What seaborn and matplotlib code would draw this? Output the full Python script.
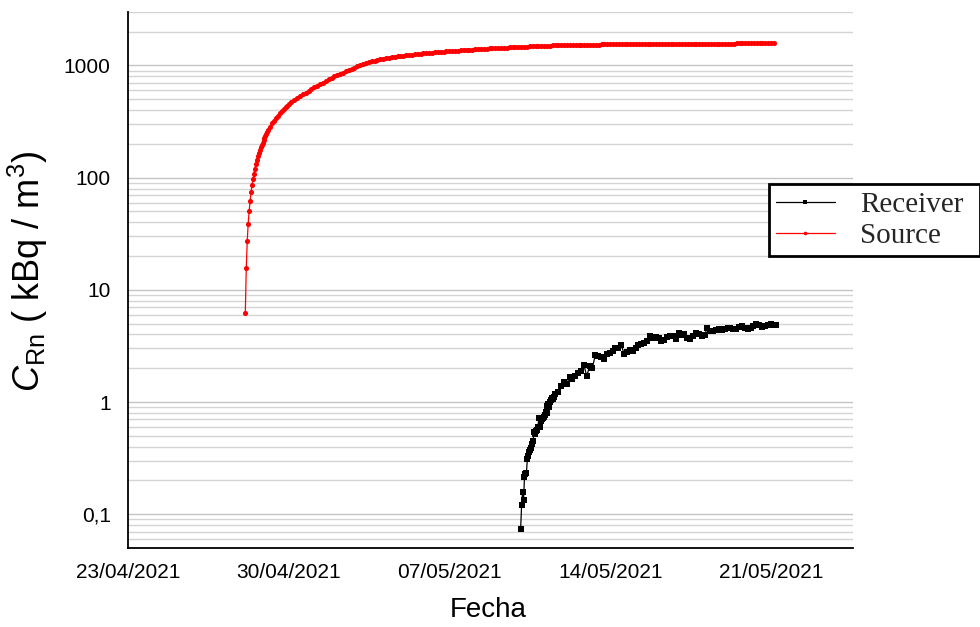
import pandas as pd
import matplotlib
matplotlib.use("Agg")
import matplotlib.pyplot as plt
import matplotlib.dates as mdates
from matplotlib.ticker import LogLocator, FuncFormatter, NullFormatter
import seaborn as sns

# valores (kBq/m3)
source_start = "2021-04-28 02:30"
# primeras 24 h, cada hora
source_first = [6.2, 15.8, 27, 39, 50, 62, 74, 86, 97, 108, 120, 133,
                145, 156, 167, 177, 187, 196, 205, 215, 225, 235, 245, 255]
# de 24 h a 48 h, cada 2 h
source_mid = [265, 285, 305, 322, 340, 357, 373, 390, 406, 422, 438, 453, 468]
# desde 51 h, cada 3 h
source_late = [490, 511, 532, 552, 572, 593, 615, 637, 659, 681,
               704, 728, 751, 774, 797, 820, 842, 865, 888, 912,
               935, 958, 981, 1004, 1026, 1048, 1068, 1088, 1104, 1119,
               1133, 1147, 1160, 1173, 1183, 1192, 1202, 1212, 1221, 1229,
               1238, 1247, 1255, 1263, 1271, 1278, 1286, 1294, 1301, 1307,
               1314, 1321, 1328, 1334, 1340, 1345, 1351, 1356, 1362, 1368,
               1374, 1379, 1385, 1391, 1397, 1402, 1407, 1411, 1417, 1422,
               1427, 1431, 1436, 1440, 1445, 1449, 1454, 1458, 1462, 1466,
               1471, 1475, 1480, 1485, 1488, 1491, 1494, 1497, 1500, 1503,
               1506, 1509, 1512, 1515, 1517, 1518, 1520, 1521, 1523, 1524,
               1526, 1527, 1529, 1531, 1532, 1534, 1535, 1537, 1538, 1540,
               1541, 1542, 1543, 1544, 1545, 1546, 1546, 1547, 1547, 1548,
               1549, 1549, 1550, 1550, 1551, 1552, 1552, 1553, 1553, 1554,
               1555, 1555, 1556, 1556, 1557, 1558, 1558, 1559, 1559, 1560,
               1561, 1561, 1562, 1562, 1563, 1564, 1564, 1565, 1565, 1566,
               1567, 1567, 1568, 1568, 1569, 1570, 1570, 1571, 1571, 1572,
               1573, 1573, 1574, 1574, 1575, 1575, 1575, 1576]

receiver_start = "2021-05-10 02:00"
# primeras 36 h, cada hora
receiver_first = [0.074, 0.122, 0.157, 0.133, 0.214, 0.23, 0.234, 0.311,
                  0.33, 0.36, 0.377, 0.39, 0.42, 0.453, 0.538, 0.52,
                  0.549, 0.56, 0.60, 0.716, 0.596, 0.682, 0.70, 0.716,
                  0.73, 0.77, 0.81, 0.80, 0.93, 0.96, 0.90, 0.994,
                  1.04, 1.08, 1.06, 1.12]
# desde 36 h, cada 3 h
receiver_late = [1.18, 1.22, 1.40, 1.50, 1.45, 1.66, 1.62, 1.71, 1.80, 1.90,
                 2.15, 1.70, 2.10, 2.03, 2.65, 2.55, 2.50, 2.41, 2.67, 2.75,
                 2.86, 3.0, 3.05, 3.25, 2.67, 2.77, 2.9, 2.85, 3.06, 3.2,
                 3.28, 3.39, 3.5, 3.85, 3.75, 3.76, 3.7, 3.5, 3.55, 3.76,
                 3.85, 3.9, 3.63, 4.16, 3.95, 4.02, 3.75, 3.63, 3.9, 4.16,
                 4.0, 3.88, 3.95, 4.6, 4.3, 4.3, 4.4, 4.46, 4.4, 4.5,
                 4.61, 4.55, 4.46, 4.5, 4.7, 4.77, 4.6, 4.5, 4.6, 4.75,
                 4.94, 4.85, 4.7, 4.77, 4.85, 4.94, 4.85, 4.9]

tick_dates = ["23/04/2021", "30/04/2021", "07/05/2021", "14/05/2021", "21/05/2021"]

# tiempos de medida
t0 = pd.Timestamp(source_start)
src_time = (pd.date_range(t0, periods=len(source_first), freq="1h")
            .append(pd.date_range(t0 + pd.Timedelta(hours=24), periods=len(source_mid), freq="2h"))
            .append(pd.date_range(t0 + pd.Timedelta(hours=51), periods=len(source_late), freq="3h")))
src_vals = source_first + source_mid + source_late

t1 = pd.Timestamp(receiver_start)
rec_time = (pd.date_range(t1, periods=len(receiver_first), freq="1h")
            .append(pd.date_range(t1 + pd.Timedelta(hours=36), periods=len(receiver_late), freq="3h")))
rec_vals = receiver_first + receiver_late

sns.set_theme(style="white")
plt.rcParams['font.family'] = ['Liberation Sans', 'DejaVu Sans']
plt.rcParams['mathtext.fontset'] = 'custom'
plt.rcParams['mathtext.rm'] = 'Liberation Sans'
plt.rcParams['mathtext.it'] = 'Liberation Sans:italic'

fig = plt.figure(figsize=(9.8, 6.27), dpi=100)
ax = fig.add_axes([0.1306, 0.126, 0.7398, 0.855])

sns.lineplot(x=rec_time, y=rec_vals, ax=ax, color="black", marker="s",
             markersize=4.0, markeredgewidth=0, linewidth=0.9, label="Receiver")
sns.lineplot(x=src_time, y=src_vals, ax=ax, color="red", marker="o",
             markersize=3.7, markeredgewidth=0, linewidth=0.9, label="Source")

# eje y logarítmico
ax.set_yscale("log")
ax.set_ylim(0.05, 3000)
ax.yaxis.set_major_locator(LogLocator(base=10, numticks=12))
ax.yaxis.set_minor_locator(LogLocator(base=10, subs=range(2, 10), numticks=12))
ax.yaxis.set_major_formatter(FuncFormatter(lambda v, p: f"{v:g}".replace(".", ",")))
ax.yaxis.set_minor_formatter(NullFormatter())

# eje x de fechas
major = pd.to_datetime(tick_dates, format="%d/%m/%Y")
ax.set_xticks(major)
ax.set_xticks(major + pd.Timedelta(hours=84), minor=True)
ax.xaxis.set_major_formatter(mdates.DateFormatter("%d/%m/%Y"))
ax.set_xlim(pd.Timestamp("2021-04-23"), pd.Timestamp("2021-05-24 13:00"))

ax.grid(False)
ax.yaxis.grid(True, which="major", color="#c4c4c4", linewidth=1.0)
ax.yaxis.grid(True, which="minor", color="#d4d4d4", linewidth=1.0)
ax.set_axisbelow(True)

for s in ["top", "right"]:
    ax.spines[s].set_visible(False)
for s in ["left", "bottom"]:
    ax.spines[s].set_color("black")
    ax.spines[s].set_linewidth(1.3)

ax.tick_params(axis="both", which="major", direction="out", length=7.5, width=1.2,
               color="black", labelsize=15, labelcolor="black")
ax.tick_params(axis="both", which="minor", direction="out", length=4, width=1.0,
               color="black")
ax.tick_params(axis="y", which="major", pad=5)

ax.set_xlabel("Fecha", fontsize=20, color="black")
ax.xaxis.set_label_coords(0.497, -0.092)
ax.set_ylabel(r"$\mathit{C}_{\mathrm{Rn}}$ ( kBq / m$^{3}$)", fontsize=26, color="black")
ax.yaxis.set_label_coords(-0.108, 0.516)

leg = ax.legend(loc="upper left", bbox_to_anchor=(0.7847, 0.574, 0.215, 0.132),
                bbox_transform=fig.transFigure, mode="expand", borderaxespad=0,
                prop=dict(family="Liberation Serif", size=21), frameon=True,
                fancybox=False, edgecolor="black", framealpha=1, handlelength=2.0,
                handletextpad=0.86, borderpad=0.25, labelspacing=0.15, markerscale=0.7)
leg.get_frame().set_linewidth(2)

fig.savefig("out.png", dpi=100)
